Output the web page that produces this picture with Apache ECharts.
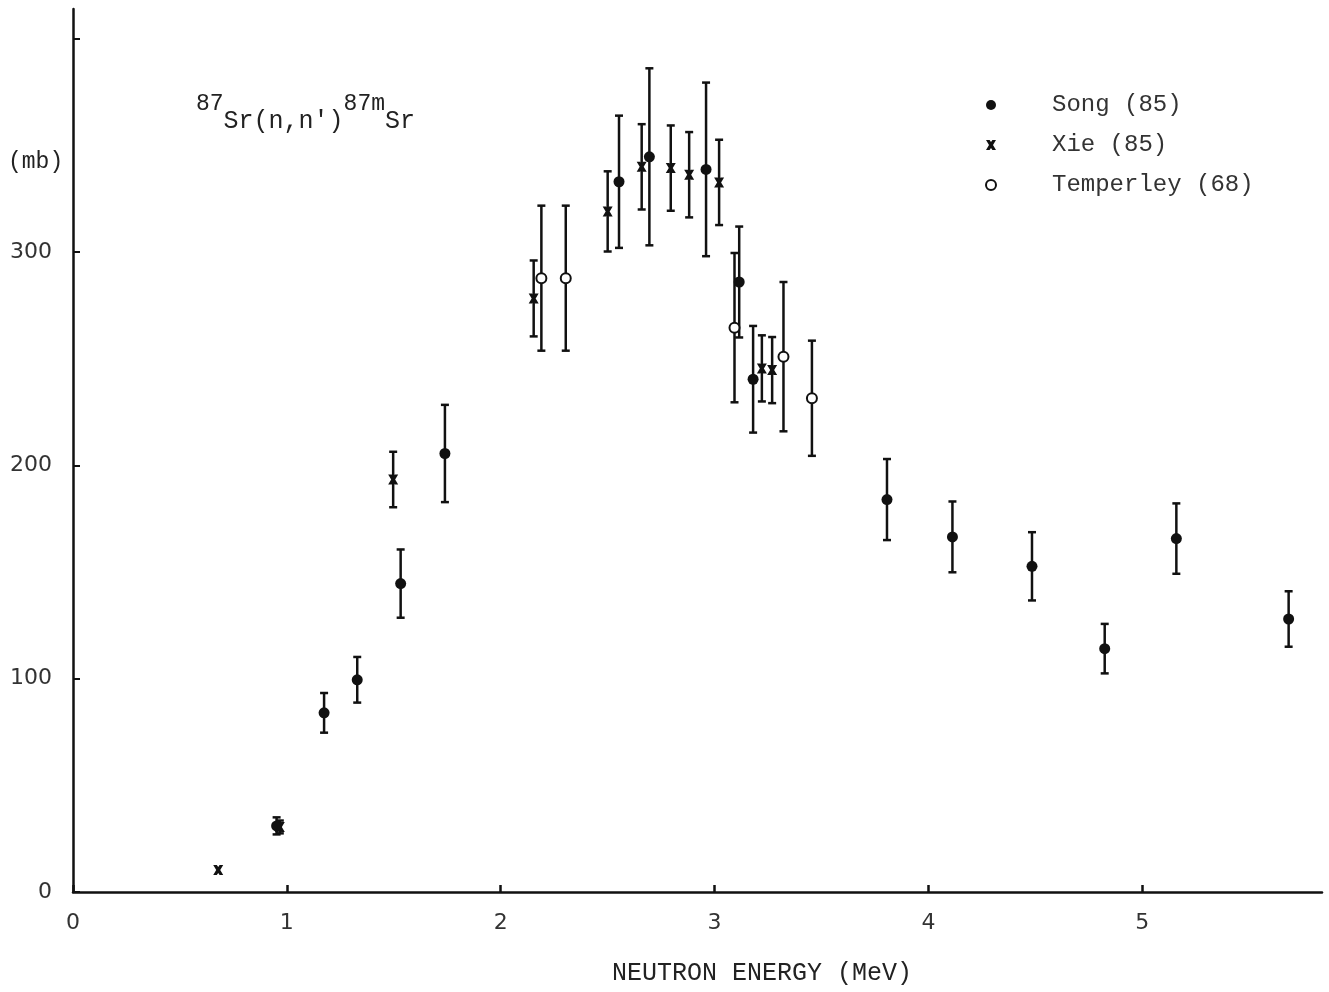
<head>
  <meta charset="utf-8" />
</head>

<body style="margin: 0; background: #fff">
  <div id="main" style="width: 1329px; height: 992px"></div>
  <script src="https://cdn.jsdelivr.net/npm/echarts@6.0.0/dist/echarts.min.js"></script>
  <script>
    // Song (85) - filled circles
    var songE = [0.952, 1.174, 1.329, 1.532, 1.739, 2.553, 2.695, 2.96, 3.115, 3.18, 3.806, 4.112, 4.484, 4.824, 5.159, 5.684];
    var songS = [31, 84, 99.5, 144.6, 205.6, 333, 344.7, 338.8, 286, 240.4, 184, 166.5, 152.7, 114.1, 165.7, 128];
    var songErr = [4, 9.3, 10.7, 16, 22.8, 31, 41.5, 40.7, 26, 25, 19, 16.6, 16, 11.6, 16.5, 13];

    // Xie (85) - crosses
    var xieE = [0.679, 0.967, 1.497, 2.154, 2.5, 2.659, 2.795, 2.881, 3.021, 3.221, 3.269];
    var xieS = [10.3, 30.5, 193.4, 278.3, 319.1, 340, 339.4, 336.3, 332.7, 245.5, 244.7];
    var xieErr = [0, 3, 13, 17.8, 18.8, 20, 20, 20, 20, 15.5, 15.5];

    // Temperley (68) - open circles
    var tempE = [2.19, 2.304, 3.093, 3.322, 3.455];
    var tempS = [287.8, 287.8, 264.6, 251, 231.5];
    var tempErr = [34, 34, 35, 35, 27];

    var xTicks = [0, 1, 2, 3, 4, 5];
    var yTicks = [0, 100, 200, 300, 400];
    var yLabels = [0, 100, 200, 300];

    var ink = "#111";
    var mono = "'Liberation Mono', 'DejaVu Sans Mono', monospace";
    var sans = "'DejaVu Sans', sans-serif";

    // 把三个数组拼成散点 / 误差棒数据
    function points(e, s) {
      return e.map((x, i) => [x, s[i]]);
    }
    function bars(e, s, err) {
      return e
        .map((x, i) => [x, s[i] - err[i], s[i] + err[i]])
        .filter((d) => d[2] > d[1]);
    }

    function errorBar(params, api) {
      var x = api.value(0);
      var lo = api.coord([x, api.value(1)]);
      var hi = api.coord([x, api.value(2)]);
      var w = 4;
      var style = { stroke: ink, lineWidth: 2.5 };
      return {
        type: "group",
        children: [
          { type: "line", shape: { x1: lo[0], y1: lo[1], x2: hi[0], y2: hi[1] }, style: style },
          { type: "line", shape: { x1: lo[0] - w, y1: lo[1], x2: lo[0] + w, y2: lo[1] }, style: style },
          { type: "line", shape: { x1: hi[0] - w, y1: hi[1], x2: hi[0] + w, y2: hi[1] }, style: style },
        ],
      };
    }

    var crossPath =
      "path://M0,0 L3.6,0 L5,2 L6.4,0 L10,0 L7,5 L10,10 L6.4,10 L5,8 L3.6,10 L0,10 L3,5 Z";

    var myChart = echarts.init(document.getElementById("main"));
    const option = {
      animation: false,
      backgroundColor: "#fff",
      grid: { left: 73, right: 7, top: 9, bottom: 100, outerBoundsMode: "none" },
      xAxis: {
        type: "value",
        min: 0,
        max: 5.84,
        splitLine: { show: false },
        axisLine: { lineStyle: { color: ink, width: 2.5 } },
        axisTick: {
          inside: true,
          length: 7,
          customValues: xTicks,
          lineStyle: { color: ink, width: 2.5 },
        },
        axisLabel: {
          customValues: xTicks,
          margin: 20,
          fontFamily: sans,
          fontSize: 22,
          color: "#333",
        },
      },
      yAxis: {
        type: "value",
        min: 0,
        max: 414,
        splitLine: { show: false },
        axisLine: { show: true, lineStyle: { color: ink, width: 2.5 } },
        axisTick: {
          show: true,
          inside: true,
          length: 7,
          customValues: yTicks,
          lineStyle: { color: ink, width: 2 },
        },
        axisLabel: {
          customValues: yLabels,
          margin: 21,
          fontFamily: sans,
          fontSize: 22,
          color: "#333",
        },
      },
      legend: {
        orient: "vertical",
        left: 980,
        top: 88,
        itemWidth: 10,
        itemHeight: 10,
        itemGap: 16,
        data: ["Song (85)", "Xie (85)", "Temperley (68)"],
        textStyle: {
          fontFamily: mono,
          fontSize: 24,
          lineHeight: 24,
          color: "#333",
          padding: [0, 0, 0, 51],
        },
      },
      graphic: [
        {
          type: "text",
          left: 8,
          top: 150,
          style: { text: "(mb)", fontFamily: mono, fontSize: 23, fill: "#222" },
        },
        {
          type: "text",
          left: 612,
          top: 961,
          style: { text: "NEUTRON ENERGY (MeV)", fontFamily: mono, fontSize: 25, fill: "#222" },
        },
        {
          type: "text",
          left: 196,
          top: 92,
          style: {
            text: "{s|87}{b|Sr(n,n')}{s|87m}{b|Sr}",
            rich: {
              s: { fontFamily: mono, fontSize: 23, fill: "#222", verticalAlign: "top", lineHeight: 42 },
              b: { fontFamily: mono, fontSize: 25, fill: "#222", verticalAlign: "bottom", lineHeight: 42 },
            },
          },
        },
      ],
      series: [
        {
          name: "songBars",
          type: "custom",
          renderItem: errorBar,
          data: bars(songE, songS, songErr),
          z: 2,
        },
        {
          name: "xieBars",
          type: "custom",
          renderItem: errorBar,
          data: bars(xieE, xieS, xieErr),
          z: 2,
        },
        {
          name: "tempBars",
          type: "custom",
          renderItem: errorBar,
          data: bars(tempE, tempS, tempErr),
          z: 2,
        },
        {
          name: "Song (85)",
          type: "scatter",
          symbol: "circle",
          symbolSize: 11,
          itemStyle: { color: ink, opacity: 1 },
          data: points(songE, songS),
          z: 5,
        },
        {
          name: "Xie (85)",
          type: "scatter",
          symbol: crossPath,
          symbolSize: 10,
          itemStyle: { color: ink, opacity: 1 },
          data: points(xieE, xieS),
          z: 5,
        },
        {
          name: "Temperley (68)",
          type: "scatter",
          symbol: "circle",
          symbolSize: 10,
          itemStyle: { color: "#fff", borderColor: ink, borderWidth: 2, opacity: 1 },
          data: points(tempE, tempS),
          z: 5,
        },
      ],
    };
    myChart.setOption(option);
  </script>
</body>
